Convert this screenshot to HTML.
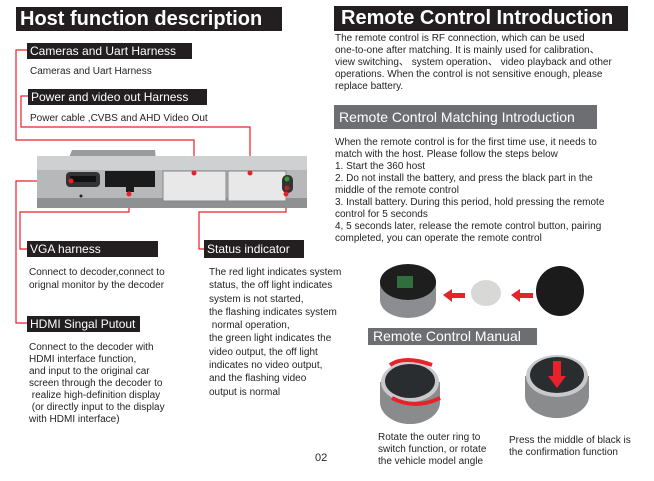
<!DOCTYPE html>
<html><head><meta charset="utf-8"><style>
body{margin:0;width:654px;height:481px;background:#fff;position:relative;overflow:hidden;font-family:"Liberation Sans",sans-serif;color:#231f20}
.a{position:absolute;white-space:nowrap}
.h{background:#231f20;color:#fff;font-weight:bold}
.l{background:#231f20;color:#fff;font-size:12px;line-height:16px;padding-left:3px}
.g{background:#6d6e71;color:#fff;font-size:14px;line-height:22px;padding-left:5px}
.t{font-size:10px;line-height:13.3px}
.r{font-size:10px;line-height:12px}
</style></head><body>
<svg class="a" style="left:0;top:0" width="654" height="481">
<g fill="none" stroke="#e8222a" stroke-width="1.2">
<polyline points="27,50 16,50 16,140 194,140 194,173"/>
<polyline points="28,96 21,96 21,127 250,127 250,173"/>
<polyline points="71,181 16,181 16,323 27,323"/>
<polyline points="129,194 129,212 20,212 20,249 27,249"/>
<polyline points="286,194 286,212 199,212 199,249 204,249"/>
</g>
<path d="M68,160 L72,150 L155,150 L156,160 Z" fill="#9a9b9d"/>
<rect x="37" y="156" width="270" height="52" rx="4" fill="#b7b8ba"/>
<rect x="37" y="156" width="270" height="14" fill="#cfd0d2"/>
<rect x="37" y="198" width="270" height="10" fill="#8f9092"/>
<rect x="66" y="172" width="34" height="15" rx="4" fill="#333"/>
<rect x="70" y="176" width="26" height="6" fill="#111"/>
<rect x="105" y="171" width="50" height="16" fill="#1a1a1a"/>
<rect x="126" y="187" width="8" height="5" fill="#1a1a1a"/>
<rect x="163" y="171" width="63" height="30" fill="#e8e8e8" stroke="#888"/>
<rect x="228" y="171" width="58" height="30" fill="#e8e8e8" stroke="#888"/>
<rect x="282" y="175" width="11" height="18" rx="5" fill="#333"/>
<circle cx="287" cy="179" r="2.5" fill="#3a9a3a"/><circle cx="287" cy="188" r="2.5" fill="#b22"/>
<circle cx="81" cy="196" r="1.5" fill="#222"/>
<g fill="#e8222a"><circle cx="71" cy="181" r="2.5"/><circle cx="129" cy="194" r="2.5"/><circle cx="194" cy="173" r="2.5"/><circle cx="250" cy="173" r="2.5"/><circle cx="286" cy="194" r="2.5"/></g>
<ellipse cx="408" cy="300" rx="28" ry="18" fill="#8c8d90"/>
<rect x="380" y="280" width="56" height="20" fill="#8c8d90"/>
<ellipse cx="408" cy="282" rx="28" ry="18" fill="#1e1e1e"/>
<rect x="397" y="276" width="16" height="12" fill="#2f6e3d"/>
<polygon points="443,295 452,289 452,293 465,293 465,298 452,298 452,302" fill="#e8222a"/>
<ellipse cx="486" cy="293" rx="15" ry="13" fill="#d8d8d6"/>
<polygon points="511,295 520,289 520,293 533,293 533,298 520,298 520,302" fill="#e8222a"/>
<ellipse cx="560" cy="291" rx="24" ry="25" fill="#1b1b1b"/>
<ellipse cx="410" cy="402" rx="30" ry="22" fill="#8a8b8d"/>
<rect x="380" y="382" width="60" height="20" fill="#8a8b8d"/>
<ellipse cx="410" cy="382" rx="29" ry="20" fill="#c8c9cb"/>
<ellipse cx="410" cy="381" rx="25" ry="17" fill="#2a2d30"/>
<path d="M432,365 Q405,355 390,365" stroke="#e8222a" stroke-width="4" fill="none"/>
<path d="M392,398 Q415,410 440,398" stroke="#e8222a" stroke-width="4" fill="none"/>
<ellipse cx="557" cy="396" rx="32" ry="22" fill="#8a8b8d"/>
<rect x="525" y="376" width="64" height="20" fill="#8a8b8d"/>
<ellipse cx="557" cy="376" rx="31" ry="21" fill="#c8c9cb"/>
<ellipse cx="557" cy="375" rx="27" ry="18" fill="#2a2d30"/>
<polygon points="553,361 561,361 561,376 566,376 557,388 548,376 553,376" fill="#e8222a"/>
</svg>
<div class="a h" style="left:16px;top:7px;width:262px;height:24px;font-size:20px;line-height:24px;padding-left:4px">Host function description</div>
<div class="a l" style="left:27px;top:43px;width:162px">Cameras and Uart Harness</div>
<div class="a t" style="left:30px;top:65px">Cameras and Uart Harness</div>
<div class="a l" style="left:28px;top:89px;width:176px">Power and video out Harness</div>
<div class="a t" style="left:30px;top:112px">Power cable ,CVBS and AHD Video Out</div>
<div class="a l" style="left:27px;top:241px;width:128px">VGA harness</div>
<div class="a t" style="left:29px;top:266px">Connect to decoder,connect to<br>orignal monitor by the decoder</div>
<div class="a l" style="left:27px;top:316px;width:110px">HDMI Singal Putout</div>
<div class="a t" style="left:29px;top:342px;line-height:12px">Connect to the decoder with<br>HDMI interface function,<br>and input to the original car<br>screen through the decoder to<br>&nbsp;realize high-definition display<br>&nbsp;(or directly input to the display<br>with HDMI interface)</div>
<div class="a l" style="left:204px;top:240px;width:97px;line-height:18px">Status indicator</div>
<div class="a t" style="left:209px;top:266px">The red light indicates system<br>status, the off light indicates<br>system is not started,<br>the flashing indicates system<br>&nbsp;normal operation,<br>the green light indicates the<br>video output, the off light<br>indicates no video output,<br>and the flashing video<br>output is normal</div>
<div class="a t" style="left:315px;top:452px;font-size:11px">02</div>
<div class="a h" style="left:334px;top:6px;width:287px;height:25px;font-size:20px;line-height:25px;padding-left:7px">Remote Control Introduction</div>
<div class="a r" style="left:335px;top:33px">The remote control is RF connection, which can be used<br>one-to-one after matching. It is mainly used for calibration、<br>view switching、 system operation、 video playback and other<br>operations. When the control is not sensitive enough, please<br>replace battery.</div>
<div class="a g" style="left:334px;top:105px;width:258px;height:24px;line-height:24px">Remote Control Matching Introduction</div>
<div class="a r" style="left:335px;top:137px">When the remote control is for the first time use, it needs to<br>match with the host. Please follow the steps below<br>1. Start the 360 host<br>2. Do not install the battery, and press the black part in the<br>middle of the remote control<br>3. Install battery. During this period, hold pressing the remote<br>control for 5 seconds<br>4, 5 seconds later, release the remote control button, pairing<br>completed, you can operate the remote control</div>
<div class="a g" style="left:368px;top:328px;width:164px;height:17px;line-height:17px">Remote Control Manual</div>
<div class="a r" style="left:378px;top:432px">Rotate the outer ring to<br>switch function, or rotate<br>the vehicle model angle</div>
<div class="a r" style="left:509px;top:435px">Press the middle of black is<br>the confirmation function</div>
</body></html>
